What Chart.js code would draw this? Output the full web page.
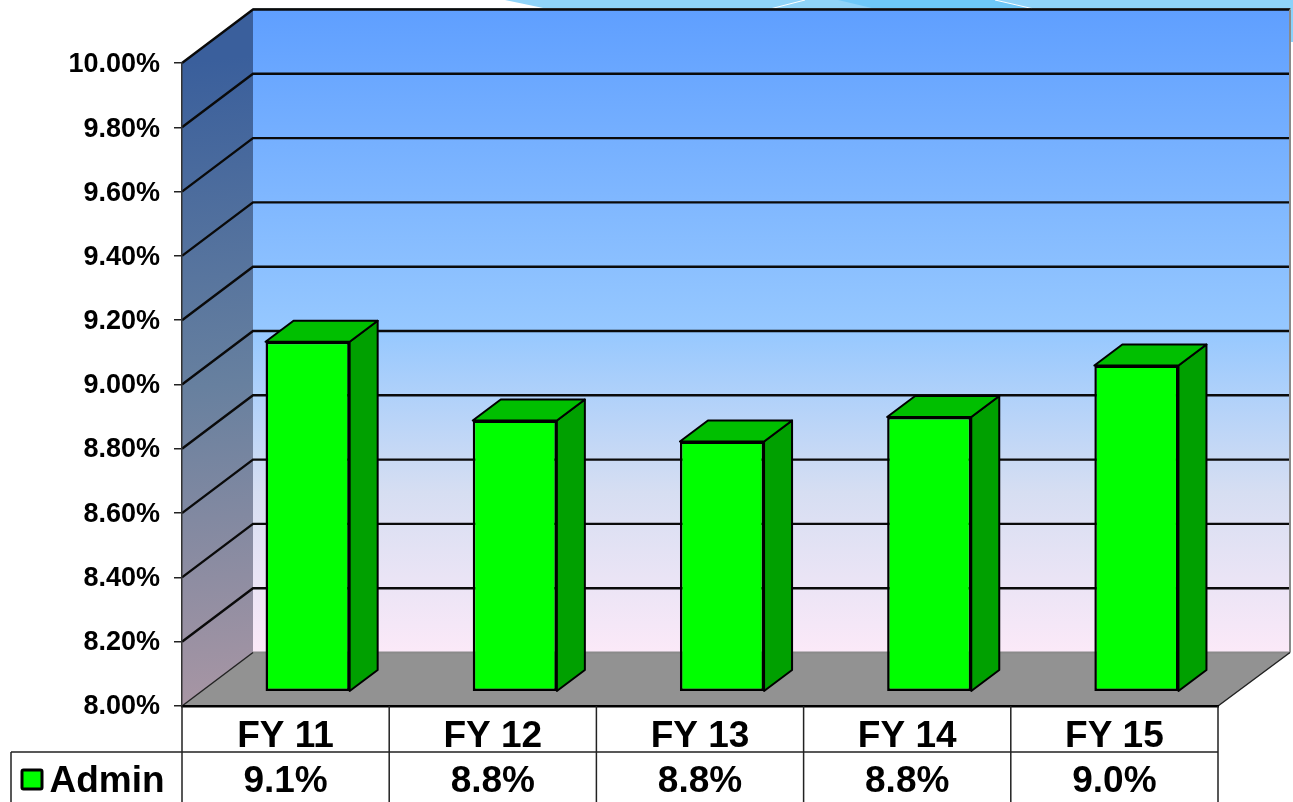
<!DOCTYPE html>
<html>
<head>
<meta charset="utf-8">
<title>Admin</title>
<script src="https://cdn.jsdelivr.net/npm/chart.js@4"></script>
<style>
  html, body { margin: 0; padding: 0; background: #fff; overflow: hidden; }
  canvas { display: block; }
</style>
</head>
<body>
<canvas id="myChart" width="1293" height="802"></canvas>
<script>
// Our labels along the x-axis
var categories = ["FY 11", "FY 12", "FY 13", "FY 14", "FY 15"];
// Bar heights
var admin = [9.08, 8.835, 8.77, 8.846, 9.006];
// Second row of the data table, as printed
var adminTable = ["9.1%", "8.8%", "8.8%", "8.8%", "9.0%"];
var seriesName = "Admin";

var yMin = 8, yMax = 10, yStep = 0.2;

// depth of the back wall and of the bars
var wallDx = 71, wallDy = -53.5, wallRight = 1290;
var barShiftX = 22, barShiftY = -17;
var barDepthX = 28, barDepthY = -21;

var fontName = '"Liberation Sans", Arial, sans-serif';

function poly(c, pts, fill, stroke, lw) {
  c.beginPath();
  c.moveTo(pts[0][0], pts[0][1]);
  for (var i = 1; i < pts.length; i++) c.lineTo(pts[i][0], pts[i][1]);
  c.closePath();
  if (fill) { c.fillStyle = fill; c.fill(); }
  if (stroke) { c.strokeStyle = stroke; c.lineWidth = lw || 1; c.lineJoin = "round"; c.stroke(); }
}

// slide background peeking out above the chart
function drawSlideStrip(c) {
  poly(c, [[505, 0], [1293, 0], [1293, 9], [548, 9]], "#90d4f9");
  poly(c, [[1290, 0], [1293, 0], [1293, 42], [1290, 42]], "#8ad2fa");
  poly(c, [[838, 0], [995, 0], [1036, 9], [876, 9]], "#6ec8f8");
  c.strokeStyle = "#ffffff";
  c.lineWidth = 1;
  c.beginPath();
  c.moveTo(770, 9); c.lineTo(805, 0);
  c.moveTo(995, 0); c.lineTo(1034, 9);
  c.stroke();
  c.strokeStyle = "#7d8d96";
  c.beginPath();
  c.moveTo(253, 8.5); c.lineTo(1291, 8.5);
  c.stroke();
}

var wallsPlugin = {
  id: "walls",
  beforeDraw: function (chart) {
    var c = chart.ctx, x = chart.scales.x, y = chart.scales.y;
    var l = x.left, r = x.right, t = y.getPixelForValue(yMax), b = y.getPixelForValue(yMin);
    var backL = l + wallDx, backR = wallRight, backT = t + wallDy, backB = b + wallDy;
    c.save();
    drawSlideStrip(c);

    // back wall
    var g = c.createLinearGradient(0, backT, 0, backB);
    g.addColorStop(0, "#5f9fff");
    g.addColorStop(0.5, "#96c8ff");
    g.addColorStop(0.75, "#d6def2");
    g.addColorStop(1, "#fbe9f8");
    poly(c, [[backL, backT], [backR, backT], [backR, backB], [backL, backB]], g);

    // left wall
    var g2 = c.createLinearGradient(l, t, l + wallDx, b);
    g2.addColorStop(0, "#3a5f9c");
    g2.addColorStop(0.5, "#67809f");
    g2.addColorStop(1, "#a996a4");
    poly(c, [[l, t], [backL, backT], [backL, backB], [l, b]], g2);

    // floor
    poly(c, [[l, b], [backL, backB], [backR, backB], [r, b]], "#929292");

    // gridlines run up the left wall and along the back
    y.ticks.forEach(function (tick) {
      if (tick.value <= yMin) return;
      var py = y.getPixelForValue(tick.value);
      c.beginPath();
      c.moveTo(l, py);
      c.lineTo(backL, py + wallDy);
      c.lineTo(backR, py + wallDy);
      c.strokeStyle = "#0a0a0a";
      c.lineWidth = 2.4;
      c.stroke();
    });

    // edges
    c.strokeStyle = "#8a8a8a";
    c.lineWidth = 2;
    c.beginPath();
    c.moveTo(backR, backT); c.lineTo(backR, backB);
    c.moveTo(backL, backB); c.lineTo(backR, backB);
    c.stroke();
    c.strokeStyle = "#222";
    c.lineWidth = 1.5;
    c.beginPath();
    c.moveTo(l, b); c.lineTo(backL, backB);
    c.moveTo(r, b); c.lineTo(backR, backB);
    c.stroke();
    c.restore();

    // y labels sit a little low against their ticks in the original, more so at the top
    y.getLabelItems().forEach(function (item) {
      item.options.translation[1] += 0.5 + 1.5 * (b - item.options.translation[1]) / (b - t);
    });
  }
};

var barsPlugin = {
  id: "bars3d",
  // sides and tops of the bars, taken from the bar elements
  beforeDatasetsDraw: function (chart) {
    var c = chart.ctx;
    c.save();
    chart.getDatasetMeta(0).data.forEach(function (bar) {
      var x1 = bar.x - bar.width / 2 + barShiftX;
      var x2 = bar.x + bar.width / 2 + barShiftX;
      var top = bar.y + barShiftY;
      var bot = bar.base + barShiftY;
      poly(c, [[x2, top], [x2 + barDepthX, top + barDepthY], [x2 + barDepthX, bot + barDepthY], [x2, bot]], "#00a000", "#000", 2);
      poly(c, [[x1, top], [x1 + barDepthX, top + barDepthY], [x2 + barDepthX, top + barDepthY], [x2, top]], "#00bf00", "#000", 2);
    });
    c.restore();
  },
  // front faces are the normal chart bars, pushed back from the axis
  beforeDatasetDraw: function (chart) {
    chart.ctx.save();
    chart.ctx.translate(barShiftX, barShiftY);
  },
  afterDatasetDraw: function (chart) {
    chart.ctx.restore();
  }
};

var tablePlugin = {
  id: "dataTable",
  afterDraw: function (chart) {
    var c = chart.ctx, x = chart.scales.x;
    var n = categories.length, w = x.width / n;
    var top = x.top, row = 752, bottom = 802, legendLeft = 11;
    c.save();
    c.strokeStyle = "#222";
    c.lineWidth = 1.5;
    c.beginPath();
    for (var i = 0; i <= n; i++) {
      var px = x.left + i * w;
      c.moveTo(px, top); c.lineTo(px, bottom);
    }
    c.moveTo(legendLeft, row); c.lineTo(x.right, row);
    c.moveTo(legendLeft, row); c.lineTo(legendLeft, bottom);
    c.stroke();

    // legend key
    c.fillStyle = "#00ff00";
    c.strokeStyle = "#000";
    c.lineWidth = 3;
    c.beginPath();
    c.roundRect(22, 770, 20, 19, 1.5);
    c.fill();
    c.stroke();
    c.fillStyle = "#000";
    c.font = "bold 37px " + fontName;
    c.textAlign = "left";
    c.textBaseline = "alphabetic";
    c.fillText(seriesName, 49.5, 792);
    c.restore();
  }
};

var ctx = document.getElementById("myChart");
var myChart = new Chart(ctx, {
  type: "bar",
  data: {
    labels: categories.map(function (cat, i) { return [cat, adminTable[i]]; }),
    datasets: [{
      label: seriesName,
      data: admin,
      // bars stand a touch below the floor line once pushed back
      base: yMin - 0.006,
      backgroundColor: "#00ff00",
      borderColor: "#000000",
      borderWidth: 2.5,
      borderSkipped: false,
      categoryPercentage: 1,
      barPercentage: 0.406,
      clip: false
    }]
  },
  options: {
    responsive: false,
    animation: false,
    layout: { padding: { top: 63, right: 75, bottom: 0, left: 0 } },
    plugins: { legend: { display: false }, title: { display: false }, tooltip: { enabled: false } },
    scales: {
      x: {
        grid: { display: false },
        border: { display: true, color: "#000", width: 2.5 },
        ticks: {
          color: "#000",
          padding: 1,
          maxRotation: 0,
          font: { family: fontName, size: 37, weight: "bold", lineHeight: 1.2 }
        },
        afterFit: function (s) { s.height = 96; }
      },
      y: {
        min: yMin,
        max: yMax,
        grid: { drawOnChartArea: false, drawTicks: true, tickLength: 8, color: "#222", lineWidth: 1.5 },
        border: { display: true, color: "#333", width: 1.5 },
        ticks: {
          stepSize: yStep,
          color: "#000",
          padding: 14,
          font: { family: fontName, size: 27, weight: "bold" },
          callback: function (v) { return Number(v).toFixed(2) + "%"; }
        },
        afterFit: function (s) { s.width = 182; }
      }
    }
  },
  plugins: [wallsPlugin, barsPlugin, tablePlugin]
});
</script>
</body>
</html>
